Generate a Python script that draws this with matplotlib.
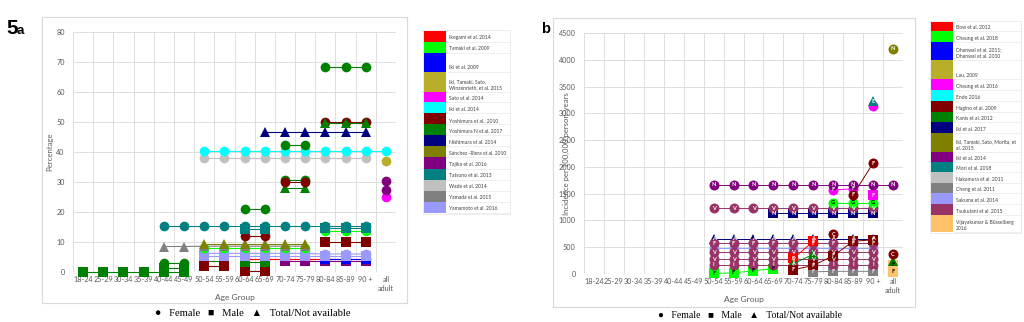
import numpy as np
import matplotlib.pyplot as plt
from matplotlib.patches import Rectangle

plt.rcParams['font.family'] = ['Lato', 'DejaVu Sans']

N = None
AGE_GROUPS = ['18-24', '25-29', '30-34', '35-39', '40-44', '45-49', '50-54', '55-59',
              '60-64', '65-69', '70-74', '75-79', '80-84', '85-89', '90 +', 'all\nadult']

# ---------------- panel a: prevalence (%) ----------------
A_STUDIES = ['Ikegami et al. 2014', 'Tamaki et al. 2009', 'Iki et al. 2009',
             'Iki, Tamaki, Sato,\nWinzenrieth, et al. 2015', 'Sato et al. 2014', 'Iki et al. 2014',
             'Yoshimura et al., 2010', 'Yoshimura N et al. 2017', 'Nishimura et al. 2014',
             'Sánchez -Riera et al. 2010', 'Tajika et al. 2016', 'Tatsuno et al. 2013',
             'Wade et al. 2014', 'Yamada et al. 2015', 'Yamamoto et al. 2016']
A_COLORS = ['#FF0000', '#00FF00', '#0000FF', '#B8AE2A', '#FF00FF', '#00FFFF', '#800000',
            '#008000', '#000080', '#808000', '#800080', '#008080', '#C0C0C0', '#808080', '#9999FF']
A_ROW_H = [10.5, 11, 19, 20, 10.5, 11, 11, 11, 11, 11, 11.5, 11, 11, 11, 11]

#                     18  25  30  35  40   45   50   55   60   65   70   75   80   85   90   all
ikegami_f =          [N,  N,  N,  N,  N,   N,   N,   N,   4.5, 4.5, 4.5, 4.5, 4.5, 4.5, 4.5, N]
tajika_m =           [N,  N,  N,  N,  N,   N,   N,   N,   N,   N,   3.6, 3.6, 3.6, 3.6, 3.6, N]
iki2009_m =          [N,  N,  N,  N,  N,   N,   N,   N,   N,   N,   N,   N,   4.2, 4.2, 4.2, N]
yamamoto_m =         [N,  N,  N,  N,  N,   N,   5.3, 5.3, 5.3, 5.3, 5.3, 5.3, 5.3, 5.3, 5.3, N]
yamamoto_f =         [N,  N,  N,  N,  N,   N,   6.2, 6.2, 6.2, 6.2, 6.2, 6.2, 6.0, 6.0, 6.0, N]
tamaki_f_lo =        [N,  N,  N,  N,  N,   N,   8.0, 8.0, 8.0, 8.0, 8.0, 8.0, N,   N,   N,   N]
tamaki_f_hi =        [N,  N,  N,  N,  N,   N,   N,   N,   N,   N,   N,   N,   13.6, 13.6, 13.6, N]
yamada_t =           [N,  N,  N,  N,  8.5, 8.5, 8.6, 8.6, 8.6, 8.6, 8.6, 8.6, N,   N,   N,   N]
sanchez_t =          [N,  N,  N,  N,  N,   N,   9.3, 9.3, 9.3, 9.3, 9.3, 9.3, N,   N,   N,   N]
tatsuno_m =          [N,  N,  N,  N,  N,   N,   N,   N,   14.3, 14.3, N,  N,   14.6, 14.6, 14.6, N]
tatsuno_f =          [N,  N,  N,  N,  15.2, 15.2, 15.2, 15.2, 15.2, 15.2, 15.2, 15.2, 15.2, 15.2, 15.2, N]
wade_f =             [N,  N,  N,  N,  N,   N,   38.0, 38.0, 38.0, 38.0, 38.0, 38.0, 38.0, 38.0, 38.0, N]
iki2014_f =          [N,  N,  N,  N,  N,   N,   40.5, 40.5, 40.5, 40.5, 40.5, 40.5, 40.5, 40.5, 40.5, 40.5]
nishimura_t =        [N,  N,  N,  N,  N,   N,   N,   N,   N,   46.8, 46.8, 46.8, 46.8, 46.8, 46.8, N]
yoshimura_n_m0 =     [0,  0,  0,  0,  0,   0,   N,   N,   N,   N,   N,   N,   N,   N,   N,   N]
yoshimura_n_m1 =     [N,  N,  N,  N,  1.3, 1.3, N,   N,   N,   N,   N,   N,   N,   N,   N,   N]
yoshimura_n_f40 =    [N,  N,  N,  N,  3.0, 3.0, N,   N,   N,   N,   N,   N,   N,   N,   N,   N]
yoshimura_n_m50 =    [N,  N,  N,  N,  N,   N,   3.6, 3.6, N,   N,   N,   N,   N,   N,   N,   N]
yoshimura_n_m60 =    [N,  N,  N,  N,  N,   N,   N,   N,   3.2, 3.2, N,   N,   N,   N,   N,   N]
yoshimura_n_f60 =    [N,  N,  N,  N,  N,   N,   N,   N,   21.0, 21.0, N,  N,   N,   N,   N,   N]
yoshimura_n_f70 =    [N,  N,  N,  N,  N,   N,   N,   N,   N,   N,   42.5, 42.5, N,  N,   N,   N]
yoshimura_n_f70b =   [N,  N,  N,  N,  N,   N,   N,   N,   N,   N,   30.6, 30.6, N,  N,   N,   N]
yoshimura_n_t70 =    [N,  N,  N,  N,  N,   N,   N,   N,   N,   N,   28.0, 28.0, N,  N,   N,   N]
yoshimura_n_f80 =    [N,  N,  N,  N,  N,   N,   N,   N,   N,   N,   N,   N,   68.2, 68.2, 68.2, N]
yoshimura_n_t80 =    [N,  N,  N,  N,  N,   N,   N,   N,   N,   N,   N,   N,   49.6, 49.6, 49.6, N]
yoshimura_m50 =      [N,  N,  N,  N,  N,   N,   1.9, 1.9, N,   N,   N,   N,   N,   N,   N,   N]
yoshimura_m60 =      [N,  N,  N,  N,  N,   N,   N,   N,   0.5, 0.5, N,   N,   N,   N,   N,   N]
yoshimura_m80 =      [N,  N,  N,  N,  N,   N,   N,   N,   N,   N,   N,   N,   10.0, 10.0, 10.0, N]
yoshimura_f60 =      [N,  N,  N,  N,  N,   N,   N,   N,   12.0, 12.0, N,  N,   N,   N,   N,   N]
yoshimura_f70 =      [N,  N,  N,  N,  N,   N,   N,   N,   N,   N,   30.0, 30.0, N,  N,   N,   N]
yoshimura_f80 =      [N,  N,  N,  N,  N,   N,   N,   N,   N,   N,   N,   N,   50.0, 50.0, 50.0, N]
iki_winz_all =       [N,  N,  N,  N,  N,   N,   N,   N,   N,   N,   N,   N,   N,   N,   N,   37.0]
sato_all =           [N,  N,  N,  N,  N,   N,   N,   N,   N,   N,   N,   N,   N,   N,   N,   25.0]
tajika_all_lo =      [N,  N,  N,  N,  N,   N,   N,   N,   N,   N,   N,   N,   N,   N,   N,   27.4]
tajika_all_hi =      [N,  N,  N,  N,  N,   N,   N,   N,   N,   N,   N,   N,   N,   N,   N,   30.2]

# (values, study index, marker)
A_SERIES = [
    (ikegami_f, 0, 'o'), (tajika_m, 10, 's'), (iki2009_m, 2, 's'),
    (yoshimura_n_m0, 7, 's'), (yoshimura_n_m1, 7, 's'), (yoshimura_n_f40, 7, 'o'),
    (yoshimura_m60, 6, 's'), (yoshimura_n_m60, 7, 's'), (yoshimura_n_m50, 7, 's'), (yoshimura_m50, 6, 's'),
    (yamamoto_m, 14, 's'), (yamamoto_f, 14, 'o'), (tamaki_f_lo, 1, 'o'),
    (yamada_t, 13, '^'), (sanchez_t, 9, '^'), (yoshimura_m80, 6, 's'),
    (yoshimura_f60, 6, 'o'), (tamaki_f_hi, 1, 'o'), (tatsuno_m, 11, 's'), (tatsuno_f, 11, 'o'),
    (yoshimura_n_f60, 7, 'o'), (yoshimura_n_t70, 7, '^'), (yoshimura_n_f70b, 7, 'o'),
    (yoshimura_f70, 6, 'o'), (wade_f, 12, 'o'), (iki2014_f, 5, 'o'), (yoshimura_n_f70, 7, 'o'),
    (nishimura_t, 8, '^'), (yoshimura_f80, 6, 'o'), (yoshimura_n_t80, 7, '^'),
    (yoshimura_n_f80, 7, 'o'), (iki_winz_all, 3, 'o'), (sato_all, 4, 'o'),
    (tajika_all_lo, 10, 'o'), (tajika_all_hi, 10, 'o'),
]

# ---------------- panel b: incidence per 100,000 person-years ----------------
B_STUDIES = ['Bow et al. 2012', 'Cheung et al. 2018', 'Dhanwal et al. 2011;\nDhanwal et al. 2010',
             'Lau, 2009', 'Cheung et al. 2016', 'Endo 2016', 'Hagino et al. 2009', 'Kanis et al. 2012',
             'Iki et al. 2017', 'Iki, Tamaki, Sato, Morita, et\nal. 2015', 'Iki et al. 2014',
             'Mori et al. 2018', 'Nakamura et al. 2011', 'Cheng et al. 2011', 'Sakuma et al. 2014',
             'Tsukutani et al. 2015', 'Vijayakumar & Büsselberg\n2016']
B_COLORS = ['#FF0000', '#00FF00', '#0000FF', '#B8AE2A', '#FF00FF', '#00FFFF', '#800000', '#008000',
            '#000080', '#808000', '#800080', '#008080', '#C0C0C0', '#808080', '#9999FF', '#993366',
            '#FFC26B']
B_ROW_H = [9.5, 10.5, 18, 19, 11, 11, 11, 10.5, 10.5, 19, 10, 10.5, 10.5, 10.5, 10.5, 11, 17]

#                   18 25 30 35 40 45  50    55    60    65    70    75    80    85    90    all
cheung18_sq =      [N, N, N, N, N, N,  10,   20,   60,   100,  N,    N,    N,    N,    N,    N]
cheng_sq =         [N, N, N, N, N, N,  N,    N,    N,    N,    N,    40,   50,   50,   50,   N]
tsuk_i =           [N, N, N, N, N, N,  170,  170,  170,  170,  170,  170,  170,  170,  170,  N]
sakuma_f =         [N, N, N, N, N, N,  480,  480,  480,  480,  480,  480,  480,  480,  480,  N]
tsuk_v2 =          [N, N, N, N, N, N,  280,  280,  280,  280,  280,  280,  280,  280,  280,  N]
tsuk_v1 =          [N, N, N, N, N, N,  410,  410,  410,  410,  410,  410,  410,  410,  410,  N]
iki17_tri =        [N, N, N, N, N, N,  660,  660,  660,  660,  660,  660,  660,  660,  660,  N]
tsuk_f =           [N, N, N, N, N, N,  570,  570,  570,  570,  570,  570,  570,  570,  570,  N]
bow_sq =           [N, N, N, N, N, N,  N,    N,    N,    N,    290,  610,  N,    N,    N,    N]
kanis_tri =        [N, N, N, N, N, N,  N,    N,    N,    N,    190,  370,  N,    N,    N,    N]
hagino_sq =        [N, N, N, N, N, N,  N,    N,    N,    N,    80,   160,  340,  610,  640,  N]
hagino_c =         [N, N, N, N, N, N,  N,    N,    N,    N,    N,    N,    740,  N,    N,    N]
tsuk_v =           [N, N, N, N, N, N,  1230, 1230, 1230, 1230, 1230, 1230, 1230, 1230, 1230, N]
iki17_sq =         [N, N, N, N, N, N,  N,    N,    N,    1130, 1130, 1130, 1130, 1130, 1130, N]
cheung18_f =       [N, N, N, N, N, N,  N,    N,    N,    N,    N,    N,    1330, 1330, 1330, N]
cheung16_f =       [N, N, N, N, N, N,  N,    N,    N,    N,    N,    N,    1570, 1590, N,    N]
cheung16_sq =      [N, N, N, N, N, N,  N,    N,    N,    N,    N,    N,    N,    N,    1470, N]
hagino_f =         [N, N, N, N, N, N,  N,    N,    N,    N,    N,    N,    N,    1480, 2070, N]
iki14_n =          [N, N, N, N, N, N,  1670, 1670, 1670, 1670, 1670, 1670, 1670, 1670, 1670, 1670]
cheung16_90 =      [N, N, N, N, N, N,  N,    N,    N,    N,    N,    N,    N,    N,    3130, N]
mori_tri =         [N, N, N, N, N, N,  N,    N,    N,    N,    N,    N,    N,    N,    3230, N]
iki_morita_all =   [N, N, N, N, N, N,  N,    N,    N,    N,    N,    N,    N,    N,    N,    4210]
vijay_lo =         [N, N, N, N, N, N,  N,    N,    N,    N,    N,    N,    N,    N,    N,    40]
vijay_hi =         [N, N, N, N, N, N,  N,    N,    N,    N,    N,    N,    N,    N,    N,    170]
kanis_all =        [N, N, N, N, N, N,  N,    N,    N,    N,    N,    N,    N,    N,    N,    250]
hagino_all =       [N, N, N, N, N, N,  N,    N,    N,    N,    N,    N,    N,    N,    N,    370]

# (values, study index, marker, letter)
B_SERIES = [
    (cheung18_sq, 1, 's', 'F'), (cheng_sq, 13, 's', 'F'), (tsuk_i, 15, 'o', 'I'),
    (sakuma_f, 14, 'o', ''), (tsuk_v2, 15, 'o', 'V'), (tsuk_v1, 15, 'o', 'V'),
    (iki17_tri, 8, '^', 'A'), (tsuk_f, 15, 'o', 'F'), (bow_sq, 0, 's', 'F'),
    (kanis_tri, 7, '^', 'A'), (hagino_sq, 6, 's', 'F'), (hagino_c, 6, 'o', 'C'),
    (iki17_sq, 8, 's', 'N'), (tsuk_v, 15, 'o', 'V'), (cheung18_f, 1, 'o', 'G'),
    (cheung16_f, 4, 'o', 'F'), (cheung16_sq, 4, 's', 'F'), (hagino_f, 6, 'o', 'F'),
    (iki14_n, 10, 'o', 'N'), (cheung16_90, 4, 'o', ''), (mori_tri, 11, '^', 'E'),
    (iki_morita_all, 9, 'o', 'N'), (vijay_lo, 16, 's', 'F'), (vijay_hi, 16, 's', 'F'),
    (kanis_all, 7, '^', ''), (hagino_all, 6, 'o', 'C'),
]

W, H = 1024, 322
GRID = '#D9D9D9'
TICK = '#595959'


def to_px_axes(left, top, right, bottom):
    """pixel box -> figure fraction rect"""
    return [left / W, 1 - bottom / H, (right - left) / W, (bottom - top) / H]


def style_axes(ax, ymax, ystep, ylabel):
    x = np.arange(len(AGE_GROUPS)) + 0.5
    ax.set_xlim(0, len(AGE_GROUPS))
    ax.set_ylim(0, ymax)
    ax.set_xticks(x)
    ax.set_xticklabels(AGE_GROUPS, fontsize=5.2, color=TICK, linespacing=1.35)
    ax.set_yticks(np.arange(0, ymax + 1, ystep))
    ax.tick_params(labelsize=5.2, labelcolor=TICK, length=0)
    ax.tick_params(axis='x', pad=3)
    ax.tick_params(axis='y', pad=6)
    ax.set_xticks(np.arange(0, len(AGE_GROUPS) + 1), minor=True)
    ax.tick_params(which='minor', length=0)
    ax.grid(True, which='minor', axis='x', color=GRID, lw=0.6)
    ax.grid(True, which='major', axis='y', color=GRID, lw=0.6)
    ax.set_axisbelow(True)
    for s in ax.spines.values():
        s.set_visible(False)
    ax.set_xlabel('Age Group', fontsize=6, color=TICK, labelpad=1)
    ax.set_ylabel(ylabel, fontsize=5.6, color=TICK, labelpad=2)
    return x


def draw_table(bg, left, top, names, colors, heights, width):
    y = top
    for name, c, h in zip(names, colors, heights):
        bg.add_patch(Rectangle((left, y), 22, h, color=c, lw=0))
        bg.plot([left + 23, left + width], [y + h, y + h], color='#E4E4E4', lw=0.4)
        bg.text(left + 25, y + h - 1.2, name, fontsize=3.6, color='#404040',
                va='bottom', ha='left', linespacing=1.25)
        y += h
    bg.add_patch(Rectangle((left - 1, top - 1), width + 1, y - top + 2, fill=False,
                           ec='#E4E4E4', lw=0.5))


fig = plt.figure(figsize=(W / 100, H / 100), dpi=100)
bg = fig.add_axes([0, 0, 1, 1], zorder=-1)
bg.set_xlim(0, W)
bg.set_ylim(H, 0)
bg.axis('off')

# chart frames
bg.add_patch(Rectangle((42, 17), 365, 286, fill=False, ec='#D9D9D9', lw=0.8))
bg.add_patch(Rectangle((553, 18), 362, 289, fill=False, ec='#D9D9D9', lw=0.8))

# panel a
ax_a = fig.add_axes(to_px_axes(73, 32, 396, 272))
xa = style_axes(ax_a, 80, 10, 'Percentage')
for vals, k, m in A_SERIES:
    y = np.array([np.nan if v is None else v for v in vals], dtype=float)
    ax_a.plot(xa, y, color=A_COLORS[k], lw=0.8, marker=m, ms=7, mec=A_COLORS[k], mew=0,
              clip_on=False)

# panel b
ax_b = fig.add_axes(to_px_axes(584, 33, 903, 274))
xb = style_axes(ax_b, 4500, 500, 'Incidence per 100,000 person-years')
ax_b.yaxis.set_label_coords(-0.045, 0.5)
for vals, k, m, letter in B_SERIES:
    y = np.array([np.nan if v is None else v for v in vals], dtype=float)
    ax_b.plot(xb, y, color=B_COLORS[k], lw=0.7, marker=m, ms=7.2, mec=B_COLORS[k], mew=0,
              clip_on=False)
    if letter:
        fc = 'black' if B_COLORS[k] in ('#00FF00', '#FFC26B') else 'white'
        for xi, yi in zip(xb, y):
            if not np.isnan(yi):
                ax_b.text(xi, yi, letter, fontsize=4, fontweight='bold', color=fc,
                          ha='center', va='center', clip_on=False)

# study tables
draw_table(bg, 424, 31, A_STUDIES, A_COLORS, A_ROW_H, 86)
draw_table(bg, 931, 21.7, B_STUDIES, B_COLORS, B_ROW_H, 90)

# panel labels
bg.text(6, 34, '5', fontsize=15, fontweight='bold', family=['Liberation Sans'], va='baseline')
bg.text(17, 34, 'a', fontsize=9.5, fontweight='bold', family=['Liberation Sans'], va='baseline')
bg.text(541, 33, 'b', fontsize=10.5, fontweight='bold', family=['Liberation Sans'], va='baseline')

# marker key
key = '●   Female   ■   Male   ▲   Total/Not available'
bg.text(253, 313, key, fontsize=7.6, family=['Liberation Serif', 'DejaVu Sans'],
        ha='center', va='center', color='black')
bg.text(750, 316, key, fontsize=7.0, family=['Liberation Serif', 'DejaVu Sans'],
        ha='center', va='center', color='black')

fig.savefig('out.png', dpi=100)
